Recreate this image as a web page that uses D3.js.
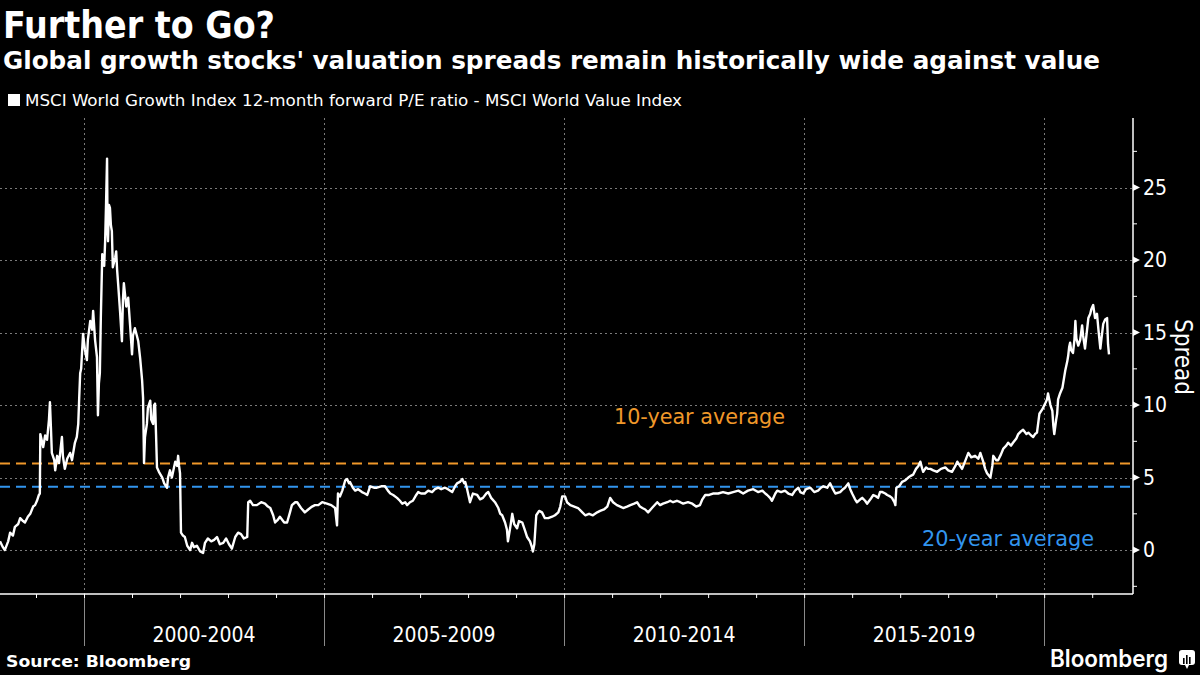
<!DOCTYPE html>
<html>
<head>
<meta charset="utf-8">
<script src="https://cdn.jsdelivr.net/npm/d3@7"></script>
<style>
  html, body { margin: 0; padding: 0; background: #000; }
  svg { display: block; }
  text { font-family: "DejaVu Sans Condensed", "DejaVu Sans", sans-serif; }
</style>
</head>
<body>
<script>
// ---------------- DATA ----------------
const titleText = "Further to Go?";
const subtitleText = "Global growth stocks' valuation spreads remain historically wide against value";
const legendText = "MSCI World Growth Index 12-month forward P/E ratio - MSCI World Value Index";
const sourceText = "Source: Bloomberg";
const yAxisTitle = "Spread";

const periodLabels = ["2000-2004", "2005-2009", "2010-2014", "2015-2019"];
const periodStarts = [2000, 2005, 2010, 2015];
const gridYears = [2000, 2005, 2010, 2015, 2020];
const yMajorTicks = [0, 5, 10, 15, 20, 25];
const yMinorTicks = [-2.5, 2.5, 7.5, 12.5, 17.5, 22.5, 27.5];

const avg10 = 5.97;
const avg20 = 4.36;
const avg10Label = "10-year average";
const avg20Label = "20-year average";

// decimal years
const years = [
1998.25,1998.31,1998.35,1998.42,1998.46,1998.52,1998.56,1998.63,1998.67,1998.73,1998.77,1998.83,1998.88,1998.94,1998.98,
1999.02,1999.06,1999.08,1999.09,1999.15,1999.19,1999.23,1999.27,1999.29,1999.31,1999.33,1999.38,1999.40,1999.44,1999.48,
1999.54,1999.56,1999.60,1999.65,1999.71,1999.75,1999.81,1999.85,1999.88,1999.90,1999.92,1999.94,1999.98,
2000.02,2000.06,2000.08,2000.13,2000.17,2000.19,2000.23,2000.27,2000.29,2000.31,2000.33,2000.35,2000.38,2000.42,2000.44,
2000.46,2000.48,2000.49,2000.50,2000.52,2000.54,2000.56,2000.58,2000.60,2000.65,2000.67,2000.69,2000.71,2000.75,2000.79,
2000.81,2000.83,2000.88,2000.92,2000.96,
2001.00,2001.02,2001.06,2001.10,2001.13,2001.17,2001.21,2001.23,2001.25,2001.27,2001.31,2001.33,2001.38,2001.40,2001.44,
2001.46,2001.48,2001.50,2001.52,2001.56,2001.63,2001.67,2001.73,2001.75,2001.79,2001.83,2001.90,2001.94,2001.96,2001.98,
2002.00,2002.02,2002.06,2002.10,2002.15,2002.21,2002.25,2002.29,2002.35,2002.42,2002.48,2002.52,2002.58,2002.65,2002.71,
2002.77,2002.83,2002.90,2002.96,
2003.02,2003.08,2003.15,2003.21,2003.27,2003.33,2003.40,2003.42,2003.46,2003.52,2003.60,2003.69,2003.77,2003.83,2003.88,
2003.94,2003.98,
2004.04,2004.08,2004.17,2004.23,2004.29,2004.33,2004.40,2004.44,2004.52,2004.60,2004.67,2004.75,2004.81,2004.88,2004.96,
2005.06,2005.15,2005.23,2005.27,2005.29,2005.33,2005.38,2005.44,2005.48,2005.52,2005.54,2005.60,2005.65,2005.71,2005.79,
2005.85,2005.90,2005.96,
2006.04,2006.10,2006.19,2006.27,2006.33,2006.38,2006.44,2006.52,2006.58,2006.63,2006.69,2006.73,2006.79,2006.85,2006.92,
2006.96,
2007.02,2007.10,2007.17,2007.25,2007.31,2007.38,2007.44,2007.52,2007.58,2007.67,2007.73,2007.77,2007.83,2007.88,2007.92,
2007.94,2007.98,
2008.04,2008.10,2008.19,2008.25,2008.31,2008.38,2008.42,2008.48,2008.56,2008.63,2008.67,2008.71,2008.77,2008.81,2008.83,
2008.88,2008.92,2008.96,
2009.02,2009.06,2009.13,2009.19,2009.23,2009.29,2009.33,2009.35,2009.38,2009.42,2009.48,2009.54,2009.60,2009.67,2009.75,
2009.81,2009.88,2009.92,2009.96,
2010.02,2010.06,2010.13,2010.21,2010.29,2010.38,2010.44,2010.52,2010.60,2010.69,2010.75,2010.83,2010.90,2010.96,
2011.02,2011.10,2011.17,2011.23,2011.31,2011.38,2011.46,2011.52,2011.58,2011.63,2011.69,2011.75,2011.83,2011.94,
2012.00,2012.06,2012.15,2012.21,2012.27,2012.35,2012.42,2012.48,2012.58,2012.67,2012.75,2012.83,2012.88,2012.94,
2013.02,2013.10,2013.21,2013.31,2013.42,2013.52,2013.63,2013.73,2013.83,2013.94,
2014.04,2014.13,2014.19,2014.23,2014.29,2014.33,2014.40,2014.44,2014.52,2014.60,2014.67,2014.75,2014.81,2014.88,2014.92,
2014.98,
2015.04,2015.13,2015.21,2015.29,2015.35,2015.40,2015.48,2015.54,2015.60,2015.65,2015.75,2015.81,2015.85,2015.92,2015.96,
2016.00,2016.06,2016.10,2016.17,2016.21,2016.27,2016.31,2016.38,2016.44,2016.50,2016.54,2016.58,2016.63,2016.69,2016.73,
2016.79,2016.83,2016.88,2016.90,2016.92,2016.98,
2017.04,2017.10,2017.17,2017.21,2017.27,2017.33,2017.38,2017.42,2017.46,2017.48,2017.54,2017.58,2017.63,2017.69,2017.77,
2017.85,2017.94,
2018.00,2018.08,2018.15,2018.19,2018.25,2018.29,2018.35,2018.42,2018.48,2018.56,2018.63,2018.67,2018.73,2018.77,2018.81,
2018.88,2018.92,2018.94,
2019.00,2019.04,2019.10,2019.15,2019.21,2019.25,2019.31,2019.35,2019.42,2019.46,2019.52,2019.56,2019.63,2019.67,2019.73,
2019.77,2019.81,2019.85,2019.90,2019.96,
2020.02,2020.06,2020.08,2020.13,2020.17,2020.19,2020.21,2020.25,2020.27,2020.29,2020.33,2020.38,2020.42,2020.44,2020.48,
2020.50,2020.52,2020.54,2020.56,2020.60,2020.63,2020.65,2020.67,2020.71,2020.75,2020.79,2020.81,2020.85,2020.88,2020.92,
2020.96,2020.98,
2021.02,2021.06,2021.10,2021.13,2021.17,2021.19,2021.23,2021.27,2021.31,2021.33,2021.35
];

// spread values (P/E points)
const spread = [
0.6,0.2,0.0,0.6,1.2,1.0,1.6,1.8,2.2,2.0,1.9,2.3,2.5,3.0,3.1,
3.4,3.8,3.9,8.0,7.1,7.9,7.6,9.0,10.2,8.5,6.7,6.2,5.5,6.5,6.0,
7.8,6.5,5.6,6.3,6.7,6.2,7.4,7.8,8.7,10.5,12.2,12.5,14.9,
13.8,13.1,14.5,15.8,15.2,16.5,14.5,13.3,9.3,11.5,12.2,16.0,20.4,19.6,21.3,
24.0,27.0,22.0,21.3,23.8,23.6,22.4,22.0,19.5,20.2,20.6,19.3,18.4,16.5,14.4,
17.2,18.4,16.8,17.4,15.5,
13.5,14.8,15.3,14.8,14.4,13.2,11.7,10.5,6.0,7.8,8.7,9.8,10.3,9.0,8.7,
10.0,10.1,8.0,5.7,5.4,5.0,4.6,4.3,5.0,5.5,5.0,6.1,5.8,6.5,5.8,
5.3,1.2,1.0,0.9,0.3,0.0,0.5,0.2,0.3,-0.1,-0.2,0.5,0.8,0.6,0.7,
0.9,0.4,0.5,0.8,
0.4,0.1,0.9,1.2,1.1,0.8,0.9,3.3,3.4,3.1,3.1,3.3,3.2,3.0,2.9,
2.4,1.9,
2.1,2.3,1.9,1.9,2.6,3.1,3.3,3.3,2.9,2.6,2.8,3.0,3.1,3.1,3.3,
3.2,3.1,2.9,1.7,3.9,3.7,4.1,4.8,4.9,4.6,4.7,4.3,4.1,4.2,4.0,
3.9,3.8,4.4,
4.3,4.3,4.4,4.4,4.1,3.9,3.8,3.6,3.4,3.2,3.3,3.1,3.3,3.4,3.8,
4.0,
3.9,3.9,4.1,4.0,4.2,4.3,4.2,4.3,4.2,4.0,4.4,4.6,4.7,4.9,4.6,
4.7,4.2,
3.3,3.9,3.8,3.5,3.6,3.9,4.0,3.6,3.3,2.9,2.5,2.4,1.9,1.4,0.6,
1.6,2.5,1.8,
1.5,2.0,1.9,1.3,0.9,0.6,0.2,-0.1,0.4,2.4,2.7,2.6,2.2,2.2,2.3,
2.4,2.6,3.0,3.7,
3.7,3.3,3.1,3.0,2.9,2.6,2.4,2.5,2.4,2.6,2.7,2.8,3.0,3.6,
3.3,3.1,3.0,2.9,3.0,3.1,3.2,3.3,3.0,2.9,2.8,2.6,2.9,3.3,
3.1,3.2,3.3,3.4,3.3,3.4,3.3,3.2,3.3,3.2,3.0,3.1,3.5,3.8,
3.8,3.9,3.9,4.0,3.9,4.0,4.1,3.9,4.1,4.2,
4.0,4.1,3.9,3.8,3.6,3.4,3.9,4.1,4.0,4.1,3.9,3.8,4.1,4.3,4.0,
3.9,
4.2,4.3,4.0,4.1,4.3,4.4,4.3,4.6,4.2,3.9,4.0,4.2,4.3,4.6,4.2,
3.9,3.5,3.3,3.5,3.6,3.4,3.2,3.5,3.8,3.7,3.6,4.0,4.0,3.9,3.8,
3.7,3.6,3.3,3.1,4.3,4.4,
4.7,4.8,5.0,5.1,5.2,5.6,5.8,6.1,5.6,5.4,5.7,5.6,5.6,5.5,5.4,
5.6,5.7,
5.5,5.4,5.8,6.1,5.8,5.6,6.1,6.7,6.4,6.5,6.3,6.7,6.1,5.6,5.3,
5.0,5.8,6.5,
6.2,6.2,6.6,7.0,7.2,7.4,7.2,7.4,7.7,8.0,8.2,8.3,8.0,8.1,7.9,
7.8,8.0,8.1,9.4,9.7,
10.1,10.4,10.8,10.0,9.6,8.6,8.0,9.0,9.4,10.4,10.8,11.2,12.0,12.4,13.0,
13.4,14.0,14.3,13.8,13.6,14.5,15.8,14.6,14.1,14.5,15.5,14.8,13.9,14.8,16.0,
16.3,16.6,
16.9,16.0,16.3,15.2,13.9,14.5,15.6,15.9,16.0,14.2,13.5
];

// ---------------- LAYOUT ----------------
const W = 1200, H = 675;
const plot = { left: 0, right: 1133, top: 118, bottom: 594 };

const svg = d3.select("body").append("svg")
  .attr("width", W).attr("height", H)
  .style("background", "#000");

svg.append("rect").attr("width", W).attr("height", H).attr("fill", "#000");

const x = d3.scaleLinear().domain([1998.25, 2021.85]).range([plot.left, plot.right]);
const y = d3.scaleLinear().domain([-3.03, 29.8]).range([plot.bottom, plot.top]);

// ---------------- TITLES ----------------
svg.append("text").attr("x", 3).attr("y", 38)
  .attr("font-size", 37).attr("font-weight", "bold").attr("fill", "#fff")
  .attr("textLength", 272).attr("lengthAdjust", "spacingAndGlyphs")
  .text(titleText);

svg.append("text").attr("x", 3).attr("y", 69)
  .attr("font-size", 25).attr("font-weight", "bold").attr("fill", "#fff")
  .attr("textLength", 1097).attr("lengthAdjust", "spacingAndGlyphs")
  .text(subtitleText);

svg.append("rect").attr("x", 8).attr("y", 94).attr("width", 12).attr("height", 12).attr("fill", "#fff");
svg.append("text").attr("x", 25).attr("y", 106)
  .attr("font-size", 16).attr("fill", "#fff")
  .attr("textLength", 657).attr("lengthAdjust", "spacingAndGlyphs")
  .text(legendText);

// ---------------- GRID ----------------
const grid = svg.append("g");
grid.selectAll("line.hg").data(yMajorTicks).join("line")
  .attr("class", "hg")
  .attr("x1", plot.left).attr("x2", plot.right)
  .attr("y1", d => Math.round(y(d)) + 0.5).attr("y2", d => Math.round(y(d)) + 0.5)
  .attr("stroke", "#7a7a7a").attr("stroke-width", 1).attr("stroke-dasharray", "2,3");

grid.selectAll("line.vg").data(gridYears).join("line")
  .attr("class", "vg")
  .attr("x1", d => Math.round(x(d)) + 0.5).attr("x2", d => Math.round(x(d)) + 0.5)
  .attr("y1", plot.top).attr("y2", plot.bottom)
  .attr("stroke", "#7a7a7a").attr("stroke-width", 1).attr("stroke-dasharray", "2,3");

grid.selectAll("line.vs").data(gridYears).join("line")
  .attr("class", "vs")
  .attr("x1", d => Math.round(x(d)) + 0.5).attr("x2", d => Math.round(x(d)) + 0.5)
  .attr("y1", plot.bottom).attr("y2", 646)
  .attr("stroke", "#8a8a8a").attr("stroke-width", 1);

// ---------------- AVERAGE LINES ----------------
const orange = "#f0982a";
const blue = "#3295ee";
svg.append("line")
  .attr("x1", plot.left).attr("x2", plot.right)
  .attr("y1", y(avg10)).attr("y2", y(avg10))
  .attr("stroke", orange).attr("stroke-width", 2).attr("stroke-dasharray", "10,6");
svg.append("line")
  .attr("x1", plot.left).attr("x2", plot.right)
  .attr("y1", y(avg20)).attr("y2", y(avg20))
  .attr("stroke", blue).attr("stroke-width", 2).attr("stroke-dasharray", "10,6");

svg.append("text").attr("x", 614).attr("y", 424)
  .attr("font-size", 21).attr("fill", orange)
  .attr("textLength", 171).attr("lengthAdjust", "spacingAndGlyphs")
  .text(avg10Label);
svg.append("text").attr("x", 922).attr("y", 546)
  .attr("font-size", 21).attr("fill", blue)
  .attr("textLength", 172).attr("lengthAdjust", "spacingAndGlyphs")
  .text(avg20Label);

// ---------------- SERIES ----------------
const series = years.map((yr, i) => ({ t: yr, v: spread[i] }));
const line = d3.line().x(d => x(d.t)).y(d => y(d.v));
svg.append("path").datum(series)
  .attr("d", line)
  .attr("fill", "none").attr("stroke", "#fff")
  .attr("stroke-width", 2.4).attr("stroke-linejoin", "round");

// ---------------- AXES ----------------
// bottom axis: yearly minor ticks
const yearTicks = d3.range(1999, 2022);
const xAxis = d3.axisBottom(x).tickValues(yearTicks).tickSize(4).tickFormat("");
const gx = svg.append("g").attr("transform", `translate(0,${plot.bottom})`).call(xAxis);
gx.select(".domain").remove();
gx.selectAll(".tick line").attr("stroke", "#fff").attr("stroke-width", 1);
svg.append("line").attr("x1", plot.left).attr("x2", plot.right)
  .attr("y1", plot.bottom).attr("y2", plot.bottom)
  .attr("stroke", "#fff").attr("stroke-width", 1.5);

svg.selectAll("text.period").data(periodLabels).join("text")
  .attr("class", "period")
  .attr("x", (d, i) => x(periodStarts[i] + 2.5))
  .attr("y", 642)
  .attr("text-anchor", "middle")
  .attr("font-size", 21).attr("fill", "#fff")
  .text(d => d);

// right axis
const yAxis = d3.axisRight(y).tickValues(yMajorTicks).tickSize(0).tickPadding(10).tickFormat(d3.format("d"));
const gy = svg.append("g").attr("transform", `translate(${plot.right},0)`).call(yAxis);
gy.select(".domain").remove();
gy.selectAll(".tick text").attr("fill", "#fff").attr("font-size", 21);
svg.append("line").attr("x1", plot.right).attr("x2", plot.right)
  .attr("y1", plot.top).attr("y2", plot.bottom)
  .attr("stroke", "#fff").attr("stroke-width", 1.5);

// major tick markers (small triangles)
svg.selectAll("path.ytri").data(yMajorTicks).join("path")
  .attr("class", "ytri")
  .attr("d", d => `M${plot.right},${y(d) - 3.5} L${plot.right + 7},${y(d)} L${plot.right},${y(d) + 3.5} Z`)
  .attr("fill", "#fff");
// minor ticks
svg.selectAll("line.yminor").data(yMinorTicks).join("line")
  .attr("class", "yminor")
  .attr("x1", plot.right).attr("x2", plot.right + 4)
  .attr("y1", d => y(d)).attr("y2", d => y(d))
  .attr("stroke", "#fff").attr("stroke-width", 1);

svg.append("text")
  .attr("transform", "translate(1175,357) rotate(90)")
  .attr("text-anchor", "middle")
  .attr("font-size", 24).attr("fill", "#fff")
  .text(yAxisTitle);

// ---------------- FOOTER ----------------
svg.append("text").attr("x", 6).attr("y", 667)
  .attr("font-size", 16).attr("font-weight", "bold").attr("fill", "#fff")
  .attr("textLength", 185).attr("lengthAdjust", "spacingAndGlyphs")
  .text(sourceText);

svg.append("text").attr("x", 1050).attr("y", 667)
  .style("font-family", "Inter, 'Open Sans', Roboto, sans-serif")
  .style("font-weight", "600")
  .attr("font-size", 24).attr("fill", "#fff")
  .attr("textLength", 118).attr("lengthAdjust", "spacingAndGlyphs")
  .text("Bloomberg");

const logo = svg.append("g").attr("transform", "translate(1179,650)");
logo.append("rect").attr("width", 16).attr("height", 15).attr("rx", 3).attr("fill", "#fff");
logo.append("path").attr("d", "M6,15 L8,19 L10,15 Z").attr("fill", "#fff");
[[4, 8, 6], [7, 5, 9], [10, 7, 7]].forEach(([bx, by, bh]) => {
  logo.append("rect").attr("x", bx).attr("y", by).attr("width", 1.6).attr("height", bh).attr("fill", "#000");
});
</script>
</body>
</html>
